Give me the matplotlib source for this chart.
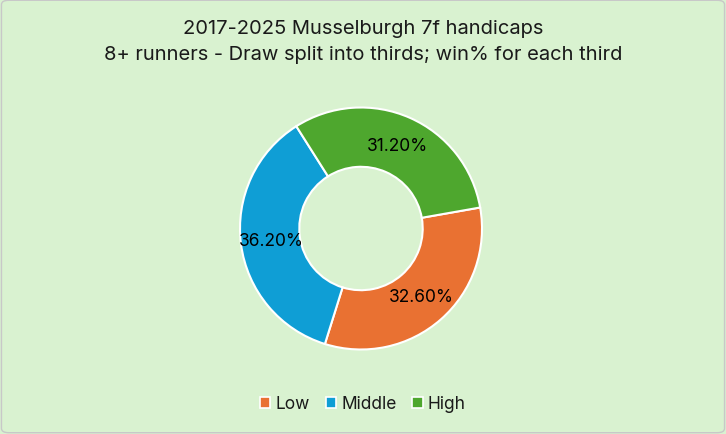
import matplotlib.pyplot as plt
from matplotlib.patches import FancyBboxPatch

plt.rcParams['font.family'] = ['Inter', 'DejaVu Sans']

labels = ['Low', 'Middle', 'High']
win_pct = [32.6, 36.2, 31.2]
colors = ['#E97132', '#0F9ED5', '#4EA72E']
title_lines = ['2017-2025 Musselburgh 7f handicaps',
               '8+ runners - Draw split into thirds; win% for each third']

bg = '#D9F2D0'
fig = plt.figure(figsize=(7.26, 4.35), dpi=100)
fig.patch.set_facecolor(bg)
# thin grey frame like the Excel chart area
frame = FancyBboxPatch((0.002, 0.003), 0.996, 0.994, boxstyle='round,pad=0,rounding_size=0.01',
                       transform=fig.transFigure, facecolor='none', edgecolor='#C8C8C8', lw=1)
fig.patches.append(frame)

# pie axes: centre ~ (361, 229) px, radius 121 px
W, H = 726, 435
cx, cy, R = 361, 229.5, 121
ax = fig.add_axes([(cx - R) / W, (H - cy - R) / H, 2 * R / W, 2 * R / H])
ax.set_facecolor(bg)

wedges, texts, autotexts = ax.pie(
    win_pct, colors=colors, startangle=10, counterclock=False,
    radius=1, autopct=lambda p: '%.2f%%' % p, pctdistance=0.75,
    wedgeprops=dict(width=0.49, edgecolor='white', linewidth=1.5),
    textprops=dict(fontsize=12.5, color='black'))
ax.set_xlim(-1.0, 1.0)
ax.set_ylim(-1.0, 1.0)
ax.set_aspect('equal')
ax.axis('off')

fig.text(0.5, 1 - 29 / H, title_lines[0], ha='center', va='center', fontsize=14.5, color='#1A1A1A')
fig.text(0.5, 1 - 55.5 / H, title_lines[1], ha='center', va='center', fontsize=14.5, color='#1A1A1A')

leg = fig.legend(wedges, labels, loc='center', bbox_to_anchor=(0.5, 1 - 405 / H), ncol=3,
                 frameon=False, fontsize=12.5, handlelength=0.6, handleheight=0.6,
                 handletextpad=0.3, columnspacing=0.9, labelcolor='#1A1A1A')
for h in leg.legend_handles:
    h.set_edgecolor('white')
    h.set_linewidth(1.2)

fig.savefig('out.png', dpi=100, facecolor=bg)
